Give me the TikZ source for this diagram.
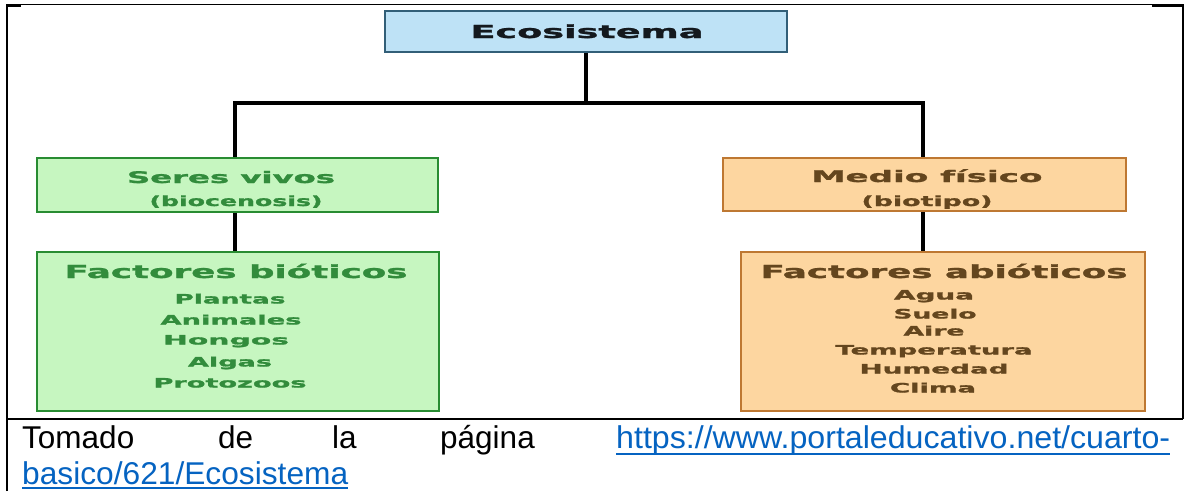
\documentclass[tikz,border=0pt]{standalone}
\usepackage{fontspec}
\usepackage{graphicx}
\setmainfont{Liberation Sans}
\newfontfamily\dfont{DejaVu Sans}[BoldFeatures={FakeBold=1.2}]
\newcommand{\sw}[2]{\resizebox{#1pt}{\height}{#2}}
\definecolor{ecofill}{RGB}{190,226,246}
\definecolor{ecodraw}{RGB}{50,95,120}
\definecolor{ecotext}{RGB}{20,25,30}
\definecolor{grfill}{RGB}{198,246,192}
\definecolor{grdraw}{RGB}{40,140,50}
\definecolor{grtext}{RGB}{50,140,60}
\definecolor{orfill}{RGB}{253,214,160}
\definecolor{ordraw}{RGB}{190,120,50}
\definecolor{ortext}{RGB}{100,70,30}
\definecolor{linkblue}{RGB}{5,99,193}
\tikzset{
  box/.style={draw, line width=2.5pt, inner sep=0pt},
  ecobox/.style={box, fill=ecofill, draw=ecodraw},
  grbox/.style={box, fill=grfill, draw=grdraw},
  orbox/.style={box, fill=orfill, draw=ordraw},
  conn/.style={line width=3.5pt, black},
  frame/.style={line width=1.5pt, black},
  lbl/.style={inner sep=0pt, anchor=base},
  big/.style={lbl, font=\dfont\bfseries\fontsize{18}{18}\selectfont},
  mid/.style={lbl, font=\dfont\bfseries\fontsize{16}{16}\selectfont},
  sub/.style={lbl, font=\dfont\bfseries\fontsize{14}{14}\selectfont},
  item/.style={lbl, font=\dfont\bfseries\fontsize{13}{13}\selectfont},
  foot/.style={inner sep=0pt, anchor=base west, font=\fontsize{31.5}{38}\selectfont},
  link/.style={foot, text=linkblue},
  ul/.style={line width=2pt, linkblue}
}
\begin{document}
\begin{tikzpicture}[x=1pt, y=-1pt]
\useasboundingbox (0,0) rectangle (1184,491);
% frame
\draw[frame] (7,491) -- (7,4.5) -- (1183,4.5) -- (1183,419);
\draw[frame] (7,419) -- (1183,419);
\draw[line width=3pt] (7,5.5) -- (21,5.5);
\draw[line width=3pt] (1152,5.5) -- (1183,5.5);
% boxes
\node[ecobox, minimum width=402pt, minimum height=41pt] (eco) at (586,31.5) {};
\node[grbox, minimum width=401pt, minimum height=54pt] (seres) at (237.5,185) {};
\node[orbox, minimum width=403pt, minimum height=53pt] (medio) at (924.5,184.5) {};
\node[grbox, minimum width=402pt, minimum height=159pt] (fbio) at (238,331.5) {};
\node[orbox, minimum width=404pt, minimum height=159pt] (fabio) at (943,331.5) {};
% connectors
\coordinate (jl) at (235,103);
\coordinate (jr) at (923,103);
\coordinate (jc) at (586,103);
\draw[conn] (eco.south) -- (jc);
\draw[conn] (jl |- seres.north) -- (jl) -- (jr) -- (jr |- medio.north);
\draw[conn] (jl |- seres.south) -- (jl |- fbio.north);
\draw[conn] (jr |- medio.south) -- (jr |- fabio.north);
% texts
\node[big, text=ecotext] (t-eco) at (587,38) {\sw{233}{Ecosistema}};
\node[mid, text=grtext] (t-seres) at (231,183) {\sw{208}{Seres vivos}};
\node[sub, text=grtext] (t-bioc) at (236,206) {\sw{173}{(biocenosis)}};
\node[mid, text=ortext] (t-medio) at (927,182) {\sw{231}{Medio físico}};
\node[sub, text=ortext] (t-biot) at (927,206) {\sw{131}{(biotipo)}};
\node[big, text=grtext] (t-fbio) at (236,278) {\sw{343}{Factores bióticos}};
\node[item, text=grtext] (b1) at (230,303.5) {\sw{111}{Plantas}};
\node[item, text=grtext] (b2) at (231,324.5) {\sw{141}{Animales}};
\node[item, text=grtext] (b3) at (226,344.5) {\sw{126}{Hongos}};
\node[item, text=grtext] (b4) at (230,366.5) {\sw{84}{Algas}};
\node[item, text=grtext] (b5) at (230,387.5) {\sw{153}{Protozoos}};
\node[big, text=ortext] (t-fabio) at (944,278) {\sw{367}{Factores abióticos}};
\node[item, text=ortext] (a1) at (934,299.5) {\sw{80}{Agua}};
\node[item, text=ortext] (a2) at (935,318.5) {\sw{83}{Suelo}};
\node[item, text=ortext] (a3) at (934,335.5) {\sw{61}{Aire}};
\node[item, text=ortext] (a4) at (934,354.5) {\sw{197}{Temperatura}};
\node[item, text=ortext] (a5) at (934,373.5) {\sw{149}{Humedad}};
\node[item, text=ortext] (a6) at (933,392.5) {\sw{86}{Clima}};
% footer
\node[foot] (w1) at (22,448) {Tomado};
\node[foot] (w2) at (218,448) {de};
\node[foot] (w3) at (332,448) {la};
\node[foot] (w4) at (440,448) {página};
\node[link] (url1) at (616,448) {\sw{554}{https://www.portaleducativo.net/cuarto-}};
\node[link] (url2) at (22,484) {\sw{326}{basico/621/Ecosistema}};
\draw[ul] ([yshift=-5.5pt]url1.base west) -- ([yshift=-5.5pt]url1.base east);
\draw[ul] ([yshift=-3.5pt]url2.base west) -- ([yshift=-3.5pt]url2.base east);
\end{tikzpicture}
\end{document}
